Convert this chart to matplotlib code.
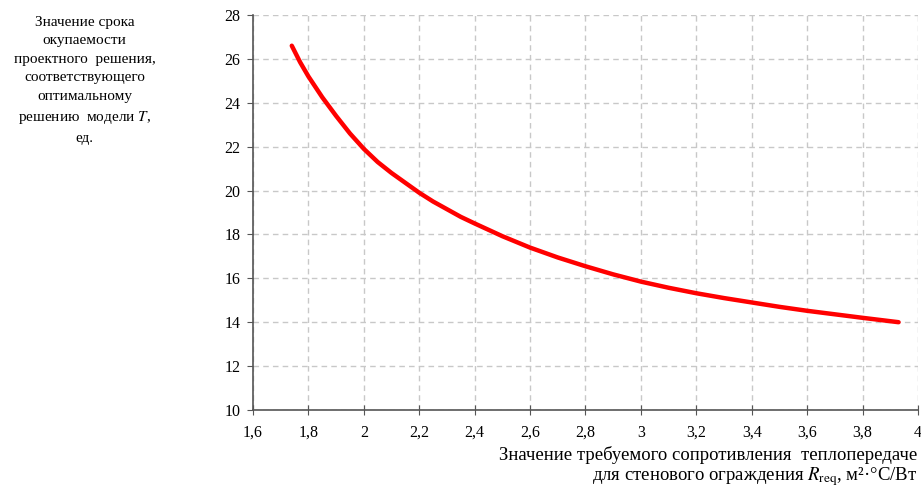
import matplotlib
matplotlib.use("Agg")
import matplotlib.pyplot as plt
from matplotlib.ticker import FuncFormatter

plt.rcParams['font.family'] = ['Liberation Serif', 'DejaVu Serif']
plt.rcParams['mathtext.fontset'] = 'stix'

r_req = [1.74, 1.77, 1.80, 1.85, 1.90, 1.95, 2.00, 2.05, 2.10, 2.15, 2.20, 2.25,
         2.30, 2.35, 2.40, 2.50, 2.60, 2.70, 2.80, 2.90, 3.00, 3.10, 3.20, 3.30,
         3.40, 3.50, 3.60, 3.70, 3.80, 3.93]
t_vals = [26.6, 25.85, 25.2, 24.25, 23.4, 22.6, 21.9, 21.3, 20.8, 20.35, 19.9, 19.5,
          19.15, 18.8, 18.5, 17.92, 17.4, 16.95, 16.55, 16.18, 15.85, 15.57, 15.32, 15.1,
          14.9, 14.7, 14.52, 14.36, 14.2, 14.0]

xticks = [1.6, 1.8, 2.0, 2.2, 2.4, 2.6, 2.8, 3.0, 3.2, 3.4, 3.6, 3.8, 4.0]
yticks = [10, 12, 14, 16, 18, 20, 22, 24, 26, 28]

fig = plt.figure(figsize=(9.21, 4.9), dpi=100)
ax = fig.add_axes([0.2747, 0.1633, 0.7220, 0.8061])

ax.plot(r_req, t_vals, color='#ff0000', lw=3.2, solid_capstyle='round',
        solid_joinstyle='round')

ax.set_xlim(1.6, 4.0)
ax.set_ylim(10, 28)
ax.set_xticks(xticks)
ax.set_yticks(yticks)

def fmt(v, pos):
    s = ('%.1f' % v).rstrip('0').rstrip('.')
    return s.replace('.', ',')

ax.xaxis.set_major_formatter(FuncFormatter(fmt))
ax.yaxis.set_major_formatter(FuncFormatter(fmt))

ax.grid(True, color='#c8c8c8', linestyle=(0, (4, 3)), lw=1)
for s in ['top', 'right']:
    ax.spines[s].set_visible(False)
for s in ['left', 'bottom']:
    ax.spines[s].set_color('#555555')
    ax.spines[s].set_linewidth(1.2)
ax.tick_params(axis='x', direction='inout', length=7, color='#555555', labelsize=11.5, pad=7)
ax.tick_params(axis='y', direction='out', length=4, color='#555555', labelsize=11.5, pad=5)

fig.text(0.092, 0.968,
         'Значение срока\nокупаемости\nпроектного  решения,\nсоответствующего\nоптимальному\nрешению  модели $\\mathit{T}$,\nед.',
         ha='center', va='top', fontsize=11, linespacing=1.55)

fig.text(0.996, 0.072, 'Значение требуемого сопротивления  теплопередаче',
         ha='right', va='center', fontsize=13.5)
fig.text(0.996, 0.028, 'для стенового ограждения $\\mathit{R}_{\\mathrm{req}}$, м²·°С/Вт',
         ha='right', va='center', fontsize=13.5)

fig.savefig('out.png', dpi=100)
